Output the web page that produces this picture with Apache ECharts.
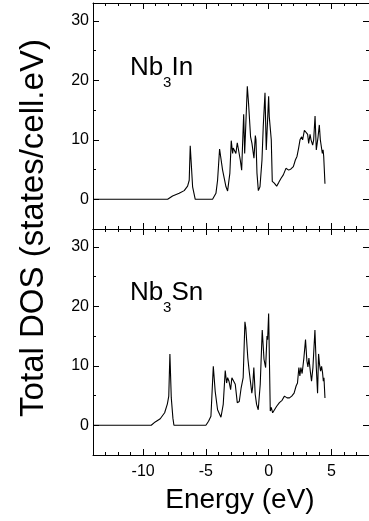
<!DOCTYPE html>
<html>
<head>
    <meta charset="utf-8" />
    <title>Total DOS Nb3In / Nb3Sn</title>
    <style>
        html, body { margin: 0; padding: 0; background: #fff; }
        #chart { width: 369px; height: 521px; }
    </style>
</head>
<body>
    <div id="chart"></div>
    <script src="https://cdn.jsdelivr.net/npm/echarts@6/dist/echarts.min.js"></script>
    <script type="text/javascript">

        // Nb3In total DOS (top panel)
        var energyIn = [-14, -8.05, -7.66, -7.13, -6.73, -6.46, -6.33, -6.25, -6.06, -5.85, -4.47, -4.2, -4.07, -3.91, -3.67, -3.4,
            -3.27, -3.09, -2.98, -2.87, -2.82, -2.71, -2.61, -2.5, -2.39, -2.26, -2.15, -1.99, -1.91, -1.86, -1.70, -1.6,
            -1.44, -1.33, -1.17, -1.06, -1.01, -0.93, -0.82, -0.69, -0.53, -0.43, -0.29, -0.19, -0.11, 0.0, 0.05, 0.13,
            0.21, 0.29, 0.45, 0.64, 0.8, 0.98, 1.17, 1.38, 1.6, 1.78, 1.97, 2.13, 2.26, 2.39, 2.5, 2.63,
            2.71, 2.85, 2.98, 3.11, 3.19, 3.3, 3.38, 3.51, 3.59, 3.7, 3.8, 3.88, 3.94, 4.04, 4.12, 4.2,
            4.28, 4.34, 4.39, 4.49];
        var dosIn = [0, 0, 0.56, 1.0, 1.45, 2.2, 3.2, 9.0, 2.1, 0, 0, 1.0, 3.2, 8.45, 4.9, 2.1,
            1.4, 4.4, 9.85, 7.7, 8.6, 8.8, 7.7, 9.5, 9.4, 6.6, 4.9, 14.3, 7.7, 8.0, 19.0, 16.1,
            10.5, 9.4, 6.9, 10.7, 10.0, 4.4, 1.45, 2.1, 6.6, 12.2, 17.9, 8.3, 8.0, 17.3, 13.9, 14.2,
            10.0, 3.0, 2.7, 2.2, 2.8, 3.5, 4.1, 5.2, 4.9, 5.1, 5.5, 6.6, 7.2, 8.6, 10.0, 10.5,
            10.0, 11.6, 11.9, 10.9, 9.4, 10.9, 10.0, 9.1, 10.0, 14.0, 8.3, 8.0, 10.5, 12.5, 10.0, 10.3,
            7.7, 8.3, 7.2, 2.6];

        // Nb3Sn total DOS (bottom panel)
        var energySn = [-14, -9.36, -9.04, -8.64, -8.29, -8.07, -7.96, -7.87, -7.76, -7.63, -7.55, -5.0, -4.79, -4.6, -4.41, -4.26,
            -4.07, -3.8, -3.62, -3.46, -3.35, -3.27, -3.16, -3.03, -2.93, -2.79, -2.66, -2.5, -2.34, -2.19, -2.03, -1.89,
            -1.82, -1.66, -1.55, -1.47, -1.34, -1.28, -1.18, -1.07, -0.96, -0.83, -0.67, -0.51, -0.37, -0.24, -0.13, -0.08,
            0.0, 0.13, 0.21, 0.32, 0.45, 0.64, 0.86, 1.07, 1.26, 1.47, 1.66, 1.84, 2.03, 2.19, 2.3, 2.41,
            2.49, 2.57, 2.67, 2.81, 2.94, 3.05, 3.13, 3.21, 3.32, 3.42, 3.53, 3.69, 3.8, 3.9, 3.98, 4.06,
            4.14, 4.22, 4.3, 4.36, 4.41, 4.49];
        var dosSn = [0, 0, 0.56, 1.1, 2.1, 3.6, 4.9, 12.0, 4.6, 1.2, 0, 0, 0.67, 1.5, 9.9, 5.7,
            2.6, 1.35, 3.5, 9.2, 7.1, 8.0, 7.4, 6.0, 8.0, 8.3, 6.9, 3.8, 4.0, 6.3, 8.0, 17.4,
            16.4, 11.3, 9.1, 9.4, 5.4, 6.3, 9.7, 5.2, 3.5, 2.6, 6.9, 16.0, 11.1, 9.7, 15.0, 14.4,
            18.8, 2.4, 3.0, 2.1, 1.9, 3.2, 3.8, 4.2, 4.9, 4.6, 4.6, 4.9, 5.4, 6.6, 7.1, 9.7,
            8.3, 9.7, 8.7, 11.3, 14.4, 10.8, 9.8, 11.3, 9.1, 7.4, 9.7, 16.0, 9.7, 5.4, 12.0, 10.2,
            9.1, 9.9, 8.8, 7.4, 8.0, 4.6];

        var xTicks = [-10, -5, 0, 5];
        var yTicks = [0, 10, 20, 30];

        var font = 'Liberation Sans, Arial, sans-serif';
        var ink = '#000';

        function pairs(xs, ys) {
            return xs.map(function (x, i) { return [x, ys[i]]; });
        }

        // four x axes per grid: major + minor ticks, bottom and top
        function xAxesFor(grid, labels) {
            var list = [];
            ['bottom', 'top'].forEach(function (pos) {
                list.push({
                    type: 'value', gridIndex: grid, position: pos, min: -14, max: 8,
                    axisLine: { show: true, onZero: false, lineStyle: { color: ink, width: 1 } },
                    axisTick: { show: true, inside: true, length: 6, customValues: xTicks, lineStyle: { color: ink } },
                    axisLabel: {
                        show: labels && pos === 'bottom', customValues: xTicks, margin: 9,
                        color: ink, fontSize: 16, fontFamily: font
                    },
                    splitLine: { show: false }
                });
                list.push({
                    type: 'value', gridIndex: grid, position: pos, min: -14, max: 8, interval: 1,
                    axisLine: { show: false, onZero: false },
                    axisTick: { show: true, inside: true, length: 3, lineStyle: { color: ink } },
                    axisLabel: { show: false },
                    splitLine: { show: false }
                });
            });
            return list;
        }

        function yAxesFor(grid) {
            var list = [];
            ['left', 'right'].forEach(function (pos) {
                list.push({
                    type: 'value', gridIndex: grid, position: pos, min: -5, max: 33,
                    axisLine: { show: pos === 'left', onZero: false, lineStyle: { color: ink, width: 1 } },
                    axisTick: { show: true, inside: true, length: 6, customValues: yTicks, lineStyle: { color: ink } },
                    axisLabel: {
                        show: pos === 'left', customValues: yTicks, margin: 4,
                        color: ink, fontSize: 16, fontFamily: font
                    },
                    splitLine: { show: false }
                });
                list.push({
                    type: 'value', gridIndex: grid, position: pos, min: -5, max: 33, interval: 5,
                    axisLine: { show: false, onZero: false },
                    axisTick: { show: true, inside: true, length: 3, lineStyle: { color: ink } },
                    axisLabel: { show: false },
                    splitLine: { show: false }
                });
            });
            return list;
        }

        function sub(x, y, base, num, rest) {
            return [
                { type: 'text', x: x, y: y, style: { text: base, fill: ink, fontSize: 26, fontFamily: font, align: 'left', verticalAlign: 'middle' } },
                { type: 'text', x: x + 33, y: y + 15, style: { text: num, fill: ink, fontSize: 15, fontFamily: font, align: 'left', verticalAlign: 'middle' } },
                { type: 'text', x: x + 41.5, y: y, style: { text: rest, fill: ink, fontSize: 26, fontFamily: font, align: 'left', verticalAlign: 'middle' } }
            ];
        }

        var chart = echarts.init(document.getElementById('chart'), null, { renderer: 'canvas' });

        var option = {
            animation: false,
            backgroundColor: '#fff',
            grid: [
                { left: 93, right: 0, top: 3, height: 226 },
                { left: 93, right: 0, top: 229, height: 226 }
            ],
            xAxis: xAxesFor(0, false).concat(xAxesFor(1, true)),
            yAxis: yAxesFor(0).concat(yAxesFor(1)),
            series: [
                {
                    name: 'Nb3In', type: 'line', xAxisIndex: 0, yAxisIndex: 0,
                    data: pairs(energyIn, dosIn), showSymbol: false,
                    lineStyle: { color: ink, width: 1.1 }
                },
                {
                    name: 'Nb3Sn', type: 'line', xAxisIndex: 4, yAxisIndex: 4,
                    data: pairs(energySn, dosSn), showSymbol: false,
                    lineStyle: { color: ink, width: 1.1 }
                }
            ],
            graphic: [
                {
                    type: 'text', x: 240, y: 500,
                    style: { text: 'Energy (eV)', fill: ink, fontSize: 28, fontFamily: font, align: 'center', verticalAlign: 'middle' }
                },
                {
                    type: 'text', x: 34, y: 228, rotation: Math.PI / 2,
                    style: { text: 'Total DOS (states/cell.eV)', fill: ink, fontSize: 33, fontFamily: font, align: 'center', verticalAlign: 'middle' }
                }
            ].concat(sub(130, 67.5, 'Nb', '3', 'In')).concat(sub(130, 292.8, 'Nb', '3', 'Sn'))
        };

        chart.setOption(option);
    </script>
</body>
</html>
